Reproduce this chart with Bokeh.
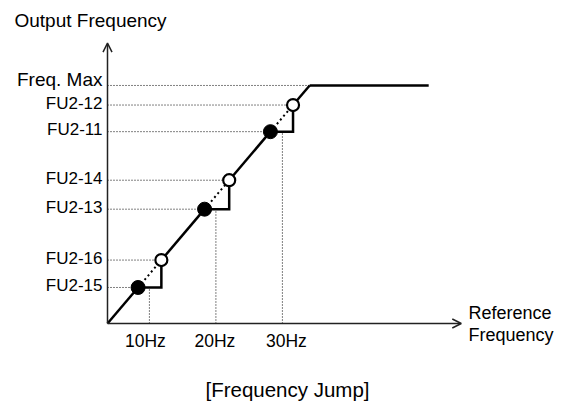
from bokeh.plotting import figure
from bokeh.models import Arrow, OpenHead, Range1d
from bokeh.core.properties import value
from bokeh.embed import file_html
from bokeh.resources import INLINE

# ---- data (schematic, in Hz) ----
origin = 3.7                      # where the two axes meet
level_labels = ["Freq. Max", "FU2-12", "FU2-11", "FU2-14", "FU2-13", "FU2-16", "FU2-15"]
level_values = [34.1, 31.6, 28.2, 22.0, 18.3, 11.8, 8.3]
jump_centers = [10, 20, 30]
jump_tick_labels = ["10Hz", "20Hz", "30Hz"]
jump_low = [8.3, 18.3, 28.2]      # filled circles (lower jump bound)
jump_high = [11.8, 22.0, 31.6]    # open circles (upper jump bound)
freq_max = 34.1
ref_end = 52.0
x_axis_end = 56.9
y_axis_end = 39.5

FONT = value("Liberation Sans")
PXX, PXY = 6.65, 7.83   # pixels per unit (layout only)
W, H = 566, 405

def xp(px):
    return origin + (px - 107) / PXX

def yp(px):
    return origin + (323 - px) / PXY

p = figure(width=W, height=H, output_backend="svg", toolbar_location=None,
           x_axis_location=None, y_axis_location=None, min_border=0,
           x_range=Range1d(xp(0), xp(W)), y_range=Range1d(yp(H), yp(0)))
p.grid.visible = False
p.outline_line_color = None
p.background_fill_color = "white"
p.border_fill_color = "white"

# guide dotted lines
guide_ends = [freq_max, jump_high[2], jump_low[2], jump_high[1], jump_low[1], jump_high[0], jump_low[0]]
for lv, xe in zip(level_values, guide_ends):
    p.line([origin, xe], [lv, lv], line_color="black", line_width=1, line_dash="1 2")
for c, lo in zip(jump_centers, jump_low):
    p.line([c, c], [origin, lo], line_color="black", line_width=1, line_dash="1 2")

# dotted diagonals inside jump bands
for lo, hi in zip(jump_low, jump_high):
    p.line([lo, hi], [lo, hi], line_color="black", line_width=2, line_dash="2 3")

# solid characteristic
starts = [origin] + jump_high
ends = jump_low + [freq_max]
for s, e in zip(starts, ends):
    p.line([s, e], [s, e], line_color="black", line_width=2.5)
p.line([freq_max, ref_end], [freq_max, freq_max], line_color="black", line_width=2.5)
for lo, hi in zip(jump_low, jump_high):
    p.line([lo, hi, hi], [lo, lo, hi], line_color="black", line_width=2.5, line_join="miter")

# axes with arrows
p.add_layout(Arrow(end=OpenHead(size=9, line_width=1.5, line_color="#222222"),
                   x_start=origin, y_start=origin, x_end=origin, y_end=y_axis_end,
                   line_width=1.5, line_color="#222222"))
p.add_layout(Arrow(end=OpenHead(size=9, line_width=1.5, line_color="#222222"),
                   x_start=origin, y_start=origin, x_end=x_axis_end, y_end=origin,
                   line_width=1.5, line_color="#222222"))

# markers
p.scatter(jump_low, jump_low, size=14, marker="circle", fill_color="black", line_color="black")
p.scatter(jump_high, jump_high, size=12, marker="circle", fill_color="white", line_color="black", line_width=2.2)

# texts
p.text([xp(14)], [yp(20)], text=["Output Frequency"], text_font=FONT, text_font_size="19px",
       text_align="left", text_baseline="middle", text_color="black")
offs = [6 / PXY] + [2 / PXY] * 6
sizes = ["19px"] + ["17px"] * 6
for v, o, s, t in zip(level_values, offs, sizes, level_labels):
    p.text([xp(102)], [v + o], text=[t], text_font=FONT, text_font_size=s,
           text_align="right", text_baseline="middle", text_color="black")
for c, t, dx in zip(jump_centers, jump_tick_labels, [-4, -1, 4]):
    p.text([c], [yp(340)], text=[t], x_offset=dx, text_font=FONT, text_font_size="17.5px",
           text_align="center", text_baseline="middle", text_color="black")
p.text([xp(468), xp(468)], [yp(312), yp(334)], text=["Reference", "Frequency"], text_font=FONT,
       text_font_size="18px", text_align="left", text_baseline="middle", text_color="black")
p.text([xp(287)], [yp(389)], text=["[Frequency Jump]"], text_font=FONT, text_font_size="20.5px",
       text_align="center", text_baseline="middle", text_color="black")

open("out.html", "w").write(file_html(p, INLINE))
